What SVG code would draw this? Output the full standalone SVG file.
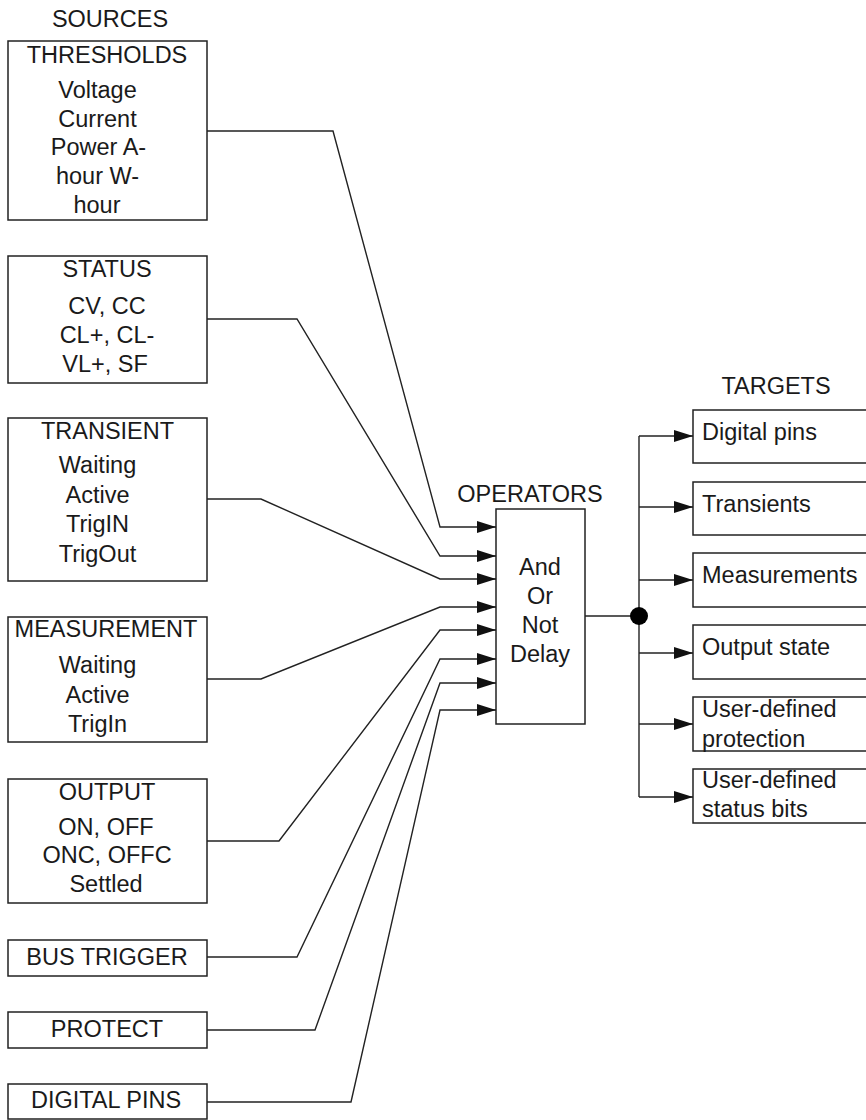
<svg xmlns="http://www.w3.org/2000/svg" width="866" height="1120" viewBox="0 0 866 1120">
<style>
.box{fill:#fff;stroke:#222;stroke-width:1.5}
.ln{fill:none;stroke:#222;stroke-width:1.4}
.ar{marker-end:url(#ah)}
text{font-family:"Liberation Sans",Arial,sans-serif;font-size:23.5px;fill:#1a1a1a}
.c{text-anchor:middle}
</style>
<defs>
<marker id="ah" markerUnits="userSpaceOnUse" markerWidth="19" markerHeight="12" refX="19" refY="6" orient="auto">
<path d="M0,0 L19,6 L0,12 z" fill="#111"/>
</marker>
</defs>
<rect width="866" height="1120" fill="#fff"/>
<text class="c" x="110" y="27">SOURCES</text>
<text class="c" x="530" y="502">OPERATORS</text>
<text class="c" x="776" y="394">TARGETS</text>

<g id="thresholds">
<rect class="box" x="8" y="41" width="199" height="179"/>
<text class="c" x="107" y="63">THRESHOLDS</text>
<text class="c" x="97.5" y="98">Voltage</text>
<text class="c" x="97.5" y="127">Current</text>
<text class="c" x="98.5" y="155">Power A-</text>
<text class="c" x="97.5" y="184">hour W-</text>
<text class="c" x="97" y="213">hour</text>
</g>
<g id="status">
<rect class="box" x="8" y="256" width="199" height="127"/>
<text class="c" x="107" y="277">STATUS</text>
<text class="c" x="107" y="314">CV, CC</text>
<text class="c" x="107" y="343">CL+, CL-</text>
<text class="c" x="105" y="372">VL+, SF</text>
</g>
<g id="transient">
<rect class="box" x="8" y="418" width="199" height="163"/>
<text class="c" x="107.5" y="439">TRANSIENT</text>
<text class="c" x="97.5" y="473">Waiting</text>
<text class="c" x="97.5" y="503">Active</text>
<text class="c" x="97.5" y="532">TrigIN</text>
<text class="c" x="97.5" y="562">TrigOut</text>
</g>
<g id="measurement">
<rect class="box" x="8" y="617" width="199" height="125"/>
<text class="c" x="106" y="637">MEASUREMENT</text>
<text class="c" x="97.5" y="673">Waiting</text>
<text class="c" x="97.5" y="703">Active</text>
<text class="c" x="97.5" y="732">TrigIn</text>
</g>
<g id="output">
<rect class="box" x="8" y="779" width="199" height="124"/>
<text class="c" x="107" y="800">OUTPUT</text>
<text class="c" x="106" y="835">ON, OFF</text>
<text class="c" x="107" y="863">ONC, OFFC</text>
<text class="c" x="106" y="892">Settled</text>
</g>
<g id="bus-trigger">
<rect class="box" x="8" y="940" width="199" height="36"/>
<text class="c" x="107" y="965">BUS TRIGGER</text>
</g>
<g id="protect">
<rect class="box" x="8" y="1012" width="199" height="36"/>
<text class="c" x="107" y="1037">PROTECT</text>
</g>
<g id="digital-pins-src">
<rect class="box" x="8" y="1084" width="199" height="35"/>
<text class="c" x="106" y="1108">DIGITAL PINS</text>
</g>

<g id="operators">
<rect class="box" x="496" y="509" width="89" height="215"/>
<text class="c" x="540" y="575">And</text>
<text class="c" x="540" y="604">Or</text>
<text class="c" x="540" y="633">Not</text>
<text class="c" x="540" y="662">Delay</text>
</g>

<g id="t-digital"><rect class="box" x="693" y="410" width="180" height="53"/><text x="702" y="440">Digital pins</text></g>
<g id="t-transients"><rect class="box" x="693" y="482" width="180" height="53"/><text x="702" y="512">Transients</text></g>
<g id="t-measurements"><rect class="box" x="693" y="553" width="180" height="54"/><text x="702" y="583">Measurements</text></g>
<g id="t-output"><rect class="box" x="693" y="625" width="180" height="54"/><text x="702" y="655">Output state</text></g>
<g id="t-protection"><rect class="box" x="693" y="697" width="180" height="54"/><text x="702" y="717">User-defined</text><text x="702" y="747">protection</text></g>
<g id="t-status"><rect class="box" x="693" y="769" width="180" height="54"/><text x="702" y="788">User-defined</text><text x="702" y="817">status bits</text></g>

<g id="connectors">
<path class="ln ar" d="M207,131 L333,131 L440,527 L496,527"/>
<path class="ln ar" d="M207,319 L297,319 L440,556 L496,556"/>
<path class="ln ar" d="M207,499 L261,499 L440,579 L496,579"/>
<path class="ln ar" d="M207,679 L261,679 L440,607 L496,607"/>
<path class="ln ar" d="M207,841 L279,841 L440,630 L496,630"/>
<path class="ln ar" d="M207,957 L297,957 L440,659 L496,659"/>
<path class="ln ar" d="M207,1030 L315,1030 L440,683 L496,683"/>
<path class="ln ar" d="M207,1102 L351,1102 L440,710 L496,710"/>
<path class="ln" d="M585,616 L639,616"/>
<path class="ln" d="M639,436 L639,797"/>
<circle cx="639" cy="616" r="9" fill="#000"/>
<path class="ln ar" d="M639,436 L693,436"/>
<path class="ln ar" d="M639,507 L693,507"/>
<path class="ln ar" d="M639,580 L693,580"/>
<path class="ln ar" d="M639,653 L693,653"/>
<path class="ln ar" d="M639,724 L693,724"/>
<path class="ln ar" d="M639,797 L693,797"/>
</g>
</svg>
